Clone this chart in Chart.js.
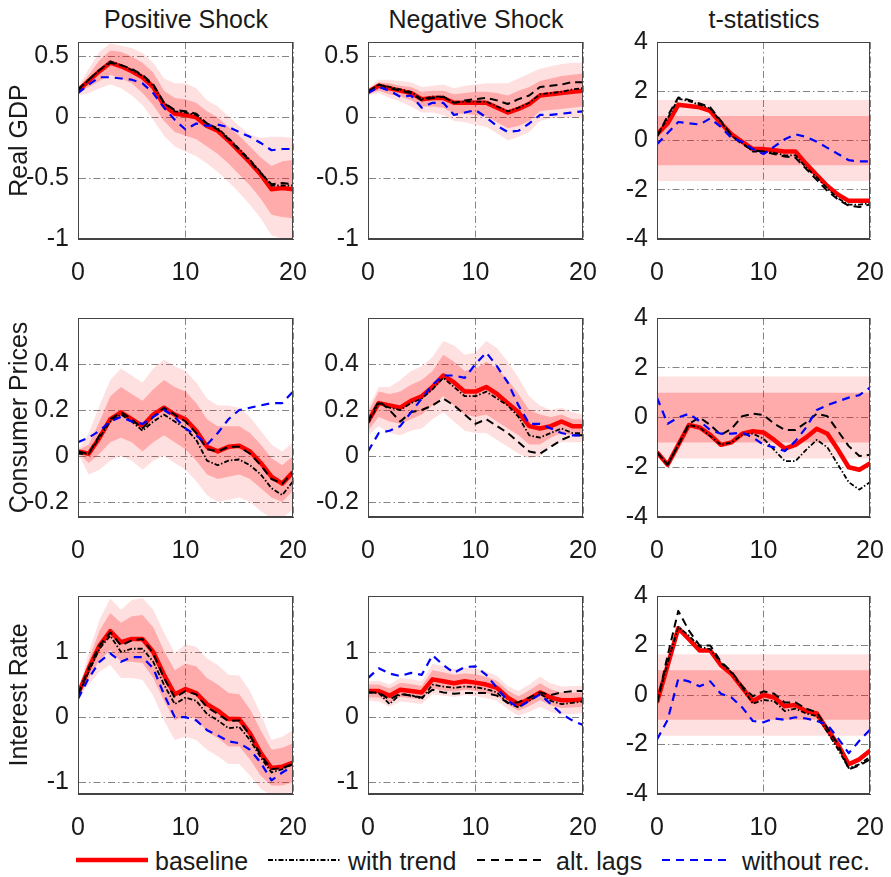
<!DOCTYPE html>
<html>
<head>
<meta charset="utf-8">
<script src="https://cdn.jsdelivr.net/npm/chart.js@4.4.1/dist/chart.umd.min.js"></script>
<style>
    body { margin: 0; background: #fff; width: 891px; height: 877px; position: relative; overflow: hidden;
           font-family: "Liberation Sans", Arial, sans-serif; color: #1a1a1a; }
    canvas { position: absolute; }
    .ttl { position: absolute; top: 4px; font-size: 25px; line-height: 30px; transform: translateX(-50%); white-space: nowrap; }
    .leg { position: absolute; top: 846px; font-size: 25px; line-height: 30px; white-space: nowrap; }
    svg.legline { position: absolute; left: 0; top: 0; }
</style>
</head>
<body>
<div class="ttl" style="left:186px">Positive Shock</div>
<div class="ttl" style="left:476px">Negative Shock</div>
<div class="ttl" style="left:764px">t-statistics</div>

<svg class="legline" width="891" height="877">
    <line x1="76" y1="860" x2="148" y2="860" stroke="#ff0000" stroke-width="4.5"/>
    <line x1="268" y1="860" x2="340" y2="860" stroke="#000" stroke-width="1.8" stroke-dasharray="5 2 1.5 2"/>
    <line x1="477" y1="860" x2="542" y2="860" stroke="#000" stroke-width="2" stroke-dasharray="8 6"/>
    <line x1="662" y1="860" x2="727" y2="860" stroke="#0000ff" stroke-width="2.2" stroke-dasharray="8 6"/>
</svg>
<div class="leg" style="left:155px">baseline</div>
<div class="leg" style="left:348px">with trend</div>
<div class="leg" style="left:556px">alt. lags</div>
<div class="leg" style="left:742px">without rec.</div>

<script>
// horizon (quarters) and ticks
const horizon = [0,1,2,3,4,5,6,7,8,9,10,11,12,13,14,15,16,17,18,19,20];
const xTicks = [0, 10, 20];
const gdpTicks = [-1, -0.5, 0, 0.5];
const cpiTicks = [-0.2, 0, 0.2, 0.4];
const rateTicks = [-1, 0, 1];
const tTicks = [-4, -2, 0, 2, 4];
const gdpRange = [-1, 0.62];
const cpiRange = [-0.265, 0.6];
const rateRange = [-1.18, 1.86];
const tRange = [-4, 4];
const tInner = 1;      // 68% band for t-stats
const tOuter = 1.645;  // 90% band for t-stats

// Real GDP, positive shock
const gdpPosBase  = [0.22,0.30,0.38,0.45,0.42,0.38,0.33,0.25,0.10,0.03,0.02,0.00,-0.07,-0.11,-0.19,-0.28,-0.37,-0.47,-0.59,-0.58,-0.59];
const gdpPosTrend = [0.22,0.31,0.39,0.46,0.43,0.39,0.34,0.26,0.12,0.05,0.04,0.02,-0.05,-0.09,-0.17,-0.26,-0.35,-0.45,-0.56,-0.56,-0.56];
const gdpPosLags  = [0.23,0.31,0.39,0.45,0.43,0.40,0.35,0.27,0.12,0.06,0.05,0.03,-0.05,-0.10,-0.18,-0.27,-0.36,-0.46,-0.55,-0.54,-0.55];
const gdpPosNoRec = [0.20,0.27,0.33,0.33,0.32,0.31,0.28,0.20,0.08,-0.02,-0.10,-0.05,-0.07,-0.06,-0.08,-0.12,-0.16,-0.21,-0.27,-0.26,-0.26];
const gdpPosHi90  = [0.25,0.40,0.54,0.61,0.59,0.57,0.53,0.45,0.32,0.28,0.28,0.24,0.14,0.09,0.01,-0.07,-0.14,-0.17,-0.16,-0.16,-0.17];
const gdpPosHi68  = [0.24,0.35,0.47,0.55,0.54,0.50,0.45,0.37,0.22,0.16,0.15,0.12,0.05,0.00,-0.08,-0.15,-0.24,-0.33,-0.40,-0.36,-0.35];
const gdpPosLo68  = [0.20,0.25,0.30,0.35,0.32,0.28,0.20,0.10,-0.03,-0.12,-0.15,-0.18,-0.24,-0.30,-0.38,-0.47,-0.56,-0.67,-0.80,-0.82,-0.83];
const gdpPosLo90  = [0.18,0.20,0.24,0.27,0.24,0.18,0.10,-0.02,-0.15,-0.24,-0.28,-0.32,-0.38,-0.45,-0.53,-0.62,-0.72,-0.83,-0.97,-1.00,-1.00];

// Real GDP, negative shock
const gdpNegBase  = [0.21,0.26,0.24,0.22,0.20,0.15,0.16,0.16,0.12,0.12,0.12,0.12,0.08,0.04,0.07,0.11,0.18,0.19,0.20,0.21,0.22];
const gdpNegTrend = [0.21,0.27,0.25,0.23,0.21,0.15,0.17,0.17,0.12,0.13,0.13,0.13,0.09,0.05,0.08,0.12,0.19,0.20,0.21,0.23,0.24];
const gdpNegLags  = [0.21,0.27,0.24,0.22,0.20,0.14,0.16,0.17,0.12,0.14,0.15,0.16,0.14,0.11,0.15,0.18,0.25,0.26,0.27,0.29,0.29];
const gdpNegNoRec = [0.20,0.25,0.22,0.17,0.18,0.08,0.12,0.12,0.02,0.04,0.06,0.00,-0.07,-0.12,-0.11,-0.05,0.02,0.02,0.03,0.04,0.05];
const gdpNegHi90  = [0.24,0.31,0.31,0.30,0.29,0.25,0.26,0.27,0.24,0.26,0.27,0.28,0.28,0.28,0.32,0.36,0.40,0.42,0.44,0.45,0.45];
const gdpNegHi68  = [0.23,0.29,0.28,0.26,0.25,0.21,0.22,0.22,0.19,0.20,0.21,0.21,0.20,0.18,0.22,0.25,0.30,0.32,0.34,0.35,0.36];
const gdpNegLo68  = [0.19,0.22,0.19,0.17,0.14,0.09,0.09,0.08,0.03,0.03,0.02,0.01,-0.04,-0.09,-0.07,-0.03,0.05,0.06,0.07,0.08,0.09];
const gdpNegLo90  = [0.18,0.20,0.16,0.13,0.09,0.04,0.04,0.02,-0.03,-0.04,-0.06,-0.08,-0.13,-0.19,-0.16,-0.12,-0.03,-0.01,0.00,0.00,0.00];

// Real GDP, t-statistics
const gdpTBase  = [0.25,0.70,1.45,1.40,1.35,1.20,0.70,0.25,-0.05,-0.35,-0.35,-0.40,-0.45,-0.45,-0.95,-1.40,-1.85,-2.20,-2.45,-2.45,-2.45];
const gdpTTrend = [0.20,0.90,1.70,1.60,1.45,1.30,0.75,0.20,-0.10,-0.45,-0.45,-0.50,-0.60,-0.60,-1.10,-1.50,-1.95,-2.35,-2.60,-2.60,-2.55];
const gdpTLags  = [0.15,1.00,1.75,1.65,1.50,1.35,0.80,0.20,-0.15,-0.40,-0.45,-0.55,-0.65,-0.70,-1.15,-1.60,-2.05,-2.40,-2.65,-2.70,-2.60];
const gdpTNoRec = [-0.15,0.30,0.75,0.70,0.65,0.90,0.55,0.10,-0.05,-0.35,-0.55,-0.25,0.05,0.25,0.15,-0.05,-0.30,-0.55,-0.80,-0.85,-0.85];

// Consumer prices, positive shock
const cpiPosBase  = [0.02,0.01,0.08,0.16,0.19,0.16,0.13,0.18,0.21,0.18,0.16,0.11,0.04,0.02,0.04,0.045,0.02,-0.03,-0.09,-0.12,-0.07];
const cpiPosTrend = [0.01,0.01,0.08,0.15,0.18,0.15,0.11,0.15,0.18,0.15,0.12,0.07,-0.02,-0.04,-0.02,-0.015,-0.04,-0.08,-0.14,-0.17,-0.11];
const cpiPosLags  = [0.02,0.01,0.09,0.16,0.19,0.16,0.12,0.17,0.21,0.18,0.15,0.10,0.03,0.02,0.04,0.04,0.01,-0.04,-0.10,-0.12,-0.07];
const cpiPosNoRec = [0.06,0.08,0.11,0.15,0.17,0.15,0.14,0.17,0.20,0.17,0.12,0.09,0.05,0.10,0.16,0.20,0.21,0.22,0.23,0.23,0.28];
const cpiPosHi90  = [0.03,0.10,0.22,0.33,0.38,0.35,0.32,0.38,0.42,0.39,0.37,0.32,0.25,0.22,0.22,0.21,0.17,0.11,0.05,0.02,0.06];
const cpiPosHi68  = [0.025,0.05,0.15,0.26,0.30,0.27,0.24,0.29,0.33,0.30,0.28,0.23,0.16,0.13,0.13,0.13,0.10,0.05,-0.01,-0.04,0.00];
const cpiPosLo68  = [0.015,-0.03,0.01,0.06,0.08,0.06,0.02,0.06,0.09,0.06,0.03,-0.02,-0.08,-0.10,-0.09,-0.08,-0.10,-0.14,-0.18,-0.20,-0.15];
const cpiPosLo90  = [0.01,-0.08,-0.06,-0.02,0.00,-0.02,-0.06,-0.02,0.00,-0.03,-0.06,-0.11,-0.17,-0.20,-0.19,-0.18,-0.20,-0.24,-0.27,-0.27,-0.23];

// Consumer prices, negative shock
const cpiNegBase  = [0.15,0.23,0.22,0.21,0.24,0.26,0.30,0.35,0.32,0.28,0.28,0.30,0.27,0.23,0.19,0.13,0.12,0.13,0.15,0.13,0.13];
const cpiNegTrend = [0.14,0.23,0.21,0.20,0.23,0.25,0.29,0.34,0.30,0.26,0.26,0.28,0.25,0.22,0.17,0.09,0.08,0.10,0.12,0.10,0.10];
const cpiNegLags  = [0.15,0.24,0.20,0.15,0.19,0.20,0.22,0.25,0.22,0.18,0.14,0.16,0.13,0.10,0.06,0.02,0.01,0.04,0.07,0.09,0.09];
const cpiNegNoRec = [0.02,0.10,0.11,0.13,0.19,0.25,0.31,0.35,0.35,0.34,0.40,0.45,0.39,0.32,0.22,0.14,0.14,0.12,0.10,0.09,0.09];
const cpiNegHi90  = [0.21,0.30,0.30,0.33,0.37,0.39,0.43,0.50,0.48,0.44,0.45,0.50,0.47,0.41,0.34,0.26,0.22,0.20,0.21,0.19,0.18];
const cpiNegHi68  = [0.19,0.28,0.27,0.28,0.31,0.33,0.37,0.44,0.41,0.37,0.38,0.41,0.38,0.33,0.27,0.20,0.18,0.17,0.18,0.16,0.16];
const cpiNegLo68  = [0.11,0.17,0.15,0.14,0.16,0.18,0.22,0.26,0.22,0.18,0.17,0.18,0.15,0.12,0.09,0.05,0.05,0.08,0.10,0.09,0.09];
const cpiNegLo90  = [0.09,0.13,0.10,0.09,0.11,0.12,0.16,0.19,0.15,0.11,0.10,0.10,0.07,0.04,0.01,-0.01,0.00,0.04,0.06,0.06,0.06];

// Consumer prices, t-statistics
const cpiTBase  = [-1.40,-1.90,-1.10,-0.30,-0.40,-0.70,-1.10,-1.00,-0.65,-0.55,-0.60,-0.90,-1.25,-1.10,-0.80,-0.45,-0.65,-1.30,-2.00,-2.10,-1.85];
const cpiTTrend = [-1.40,-1.90,-1.10,-0.30,-0.40,-0.75,-1.10,-1.00,-0.70,-0.65,-0.85,-1.30,-1.75,-1.75,-1.30,-0.90,-1.20,-1.90,-2.60,-2.90,-2.60];
const cpiTLags  = [-1.40,-1.90,-1.10,-0.25,0.00,-0.30,-0.70,-0.45,0.05,0.15,0.10,-0.25,-0.50,-0.50,-0.20,0.15,0.05,-0.55,-1.15,-1.55,-1.50];
const cpiTNoRec = [0.80,-0.25,0.00,0.15,-0.15,-0.50,-0.65,-0.65,-0.60,-0.80,-1.10,-1.20,-1.35,-0.95,-0.40,0.30,0.50,0.65,0.80,0.90,1.20];

// Interest rate, positive shock
const ratePosBase  = [0.35,0.75,1.10,1.32,1.15,1.20,1.20,1.00,0.65,0.35,0.43,0.37,0.20,0.10,-0.03,-0.03,-0.25,-0.55,-0.78,-0.76,-0.70];
const ratePosTrend = [0.33,0.70,1.05,1.25,1.00,1.05,1.05,0.85,0.50,0.20,0.30,0.25,0.05,-0.05,-0.17,-0.15,-0.35,-0.62,-0.85,-0.80,-0.72];
const ratePosLags  = [0.35,0.75,1.10,1.30,1.10,1.18,1.20,0.98,0.60,0.30,0.40,0.35,0.15,0.05,-0.06,-0.05,-0.28,-0.58,-0.80,-0.78,-0.72];
const ratePosNoRec = [0.28,0.60,0.85,0.98,0.85,0.92,0.92,0.75,0.35,0.00,0.00,-0.05,-0.20,-0.28,-0.37,-0.40,-0.50,-0.70,-0.97,-0.85,-0.75];
const ratePosHi90  = [0.38,1.00,1.50,1.82,1.65,1.80,1.83,1.65,1.30,0.98,1.12,1.08,0.90,0.80,0.65,0.64,0.40,0.05,-0.35,-0.30,-0.20];
const ratePosHi68  = [0.37,0.88,1.33,1.60,1.45,1.55,1.57,1.38,1.02,0.72,0.82,0.78,0.60,0.50,0.37,0.35,0.12,-0.20,-0.50,-0.47,-0.40];
const ratePosLo68  = [0.32,0.60,0.87,1.03,0.85,0.85,0.83,0.60,0.25,-0.05,0.03,-0.03,-0.22,-0.32,-0.45,-0.45,-0.65,-0.90,-1.05,-1.05,-1.00];
const ratePosLo90  = [0.30,0.50,0.70,0.80,0.60,0.60,0.57,0.33,-0.05,-0.35,-0.30,-0.35,-0.50,-0.60,-0.72,-0.72,-0.90,-1.10,-1.20,-1.20,-1.20];

// Interest rate, negative shock
const rateNegBase  = [0.40,0.40,0.33,0.42,0.40,0.38,0.58,0.55,0.52,0.55,0.53,0.50,0.45,0.30,0.20,0.28,0.38,0.30,0.26,0.26,0.27];
const rateNegTrend = [0.38,0.37,0.20,0.35,0.34,0.28,0.50,0.47,0.45,0.47,0.46,0.43,0.38,0.22,0.15,0.25,0.36,0.25,0.20,0.22,0.24];
const rateNegLags  = [0.38,0.38,0.27,0.36,0.33,0.30,0.42,0.38,0.36,0.37,0.37,0.37,0.33,0.22,0.23,0.30,0.38,0.34,0.38,0.40,0.40];
const rateNegNoRec = [0.60,0.75,0.67,0.63,0.68,0.65,0.95,0.80,0.68,0.77,0.78,0.65,0.45,0.25,0.15,0.25,0.35,0.20,0.05,-0.05,-0.12];
const rateNegHi90  = [0.55,0.56,0.50,0.60,0.58,0.55,0.82,0.78,0.74,0.76,0.75,0.70,0.63,0.48,0.40,0.50,0.62,0.52,0.47,0.48,0.48];
const rateNegHi68  = [0.50,0.50,0.44,0.53,0.51,0.48,0.72,0.69,0.65,0.67,0.66,0.62,0.56,0.41,0.32,0.41,0.52,0.43,0.38,0.38,0.38];
const rateNegLo68  = [0.30,0.30,0.22,0.31,0.29,0.27,0.44,0.41,0.39,0.42,0.40,0.37,0.33,0.19,0.10,0.17,0.26,0.18,0.14,0.15,0.16];
const rateNegLo90  = [0.25,0.24,0.16,0.24,0.22,0.20,0.35,0.33,0.31,0.34,0.32,0.29,0.25,0.12,0.02,0.08,0.16,0.08,0.04,0.05,0.06];

// Interest rate, t-statistics
const rateTBase  = [-0.30,1.20,2.70,2.25,1.80,1.80,1.20,0.85,0.30,-0.25,0.00,-0.10,-0.45,-0.40,-0.65,-0.75,-1.40,-2.00,-2.80,-2.60,-2.25];
const rateTTrend = [-0.30,1.30,2.75,2.40,1.95,1.85,1.30,0.90,0.30,-0.35,-0.20,-0.25,-0.65,-0.55,-0.75,-0.85,-1.50,-2.20,-2.95,-2.80,-2.50];
const rateTLags  = [-0.35,1.60,3.40,2.60,2.00,2.00,1.35,0.95,0.35,-0.05,0.15,0.05,-0.30,-0.30,-0.55,-0.70,-1.35,-2.00,-3.00,-2.85,-2.60];
const rateTNoRec = [-1.80,-1.00,0.65,0.55,0.35,0.55,0.05,-0.10,-0.50,-1.05,-1.10,-0.95,-1.00,-0.90,-0.95,-1.05,-1.20,-1.75,-2.35,-1.85,-1.40];

// page layout of the 3x3 plot boxes
const colLeft = [78, 368, 657], colRight = [293, 583, 870];
const rowTop = [42, 318, 596], rowBottom = [239, 517, 794];
const rowTitles = ['Real GDP', 'Consumer Prices', 'Interest Rate'];
const FONT = '"Liberation Sans", Arial, sans-serif';
const lightPink = 'rgba(255,0,0,0.12)';
const darkPink = 'rgba(255,0,0,0.24)';
// canvas margins round the plot box (y axis width, room for labels)
const PAD_L = 70, PAD_T = 32, PAD_R = 40, PAD_B = 45;

const panels = [
    { r: 0, c: 0, base: gdpPosBase, trend: gdpPosTrend, lags: gdpPosLags, norec: gdpPosNoRec, hi90: gdpPosHi90, hi68: gdpPosHi68, lo68: gdpPosLo68, lo90: gdpPosLo90, ticks: gdpTicks, range: gdpRange },
    { r: 0, c: 1, base: gdpNegBase, trend: gdpNegTrend, lags: gdpNegLags, norec: gdpNegNoRec, hi90: gdpNegHi90, hi68: gdpNegHi68, lo68: gdpNegLo68, lo90: gdpNegLo90, ticks: gdpTicks, range: gdpRange },
    { r: 0, c: 2, base: gdpTBase, trend: gdpTTrend, lags: gdpTLags, norec: gdpTNoRec, ticks: tTicks, range: tRange },
    { r: 1, c: 0, base: cpiPosBase, trend: cpiPosTrend, lags: cpiPosLags, norec: cpiPosNoRec, hi90: cpiPosHi90, hi68: cpiPosHi68, lo68: cpiPosLo68, lo90: cpiPosLo90, ticks: cpiTicks, range: cpiRange },
    { r: 1, c: 1, base: cpiNegBase, trend: cpiNegTrend, lags: cpiNegLags, norec: cpiNegNoRec, hi90: cpiNegHi90, hi68: cpiNegHi68, lo68: cpiNegLo68, lo90: cpiNegLo90, ticks: cpiTicks, range: cpiRange },
    { r: 1, c: 2, base: cpiTBase, trend: cpiTTrend, lags: cpiTLags, norec: cpiTNoRec, ticks: tTicks, range: tRange },
    { r: 2, c: 0, base: ratePosBase, trend: ratePosTrend, lags: ratePosLags, norec: ratePosNoRec, hi90: ratePosHi90, hi68: ratePosHi68, lo68: ratePosLo68, lo90: ratePosLo90, ticks: rateTicks, range: rateRange },
    { r: 2, c: 1, base: rateNegBase, trend: rateNegTrend, lags: rateNegLags, norec: rateNegNoRec, hi90: rateNegHi90, hi68: rateNegHi68, lo68: rateNegLo68, lo90: rateNegLo90, ticks: rateTicks, range: rateRange },
    { r: 2, c: 2, base: rateTBase, trend: rateTTrend, lags: rateTLags, norec: rateTNoRec, ticks: tTicks, range: tRange },
];

// box round the plot area, like matlab's "box on"
const boxPlugin = {
    id: 'box',
    afterDatasetsDraw(chart) {
        const { ctx, chartArea: a } = chart;
        ctx.save();
        ctx.strokeStyle = '#444';
        ctx.lineWidth = 1;
        ctx.setLineDash([]);
        ctx.strokeRect(a.left + 0.5, a.top + 0.5, a.right - a.left - 1, a.bottom - a.top - 1);
        ctx.restore();
    }
};

const pts = arr => arr.map((v, i) => ({ x: horizon[i], y: v }));
const flat = v => [{ x: horizon[0], y: v }, { x: horizon[horizon.length - 1], y: v }];

function makePanel(p) {
    const w = colRight[p.c] - colLeft[p.c], h = rowBottom[p.r] - rowTop[p.r];
    const cv = document.createElement('canvas');
    cv.width = PAD_L + w + PAD_R;
    cv.height = PAD_T + h + PAD_B;
    cv.style.left = (colLeft[p.c] - PAD_L) + 'px';
    cv.style.top = (rowTop[p.r] - PAD_T) + 'px';
    document.body.appendChild(cv);

    const isT = p.c === 2;
    const hi68 = isT ? flat(tInner) : pts(p.hi68);
    const lo68 = isT ? flat(-tInner) : pts(p.lo68);
    const hi90 = isT ? flat(tOuter) : pts(p.hi90);
    const lo90 = isT ? flat(-tOuter) : pts(p.lo90);
    const none = 'rgba(0,0,0,0)';

    const datasets = [
        { label: 'without rec.', data: pts(p.norec), borderColor: '#0000ff', borderWidth: 2.2, borderDash: [8, 6] },
        { label: 'alt. lags', data: pts(p.lags), borderColor: '#000', borderWidth: 2, borderDash: [8, 5] },
        { label: 'with trend', data: pts(p.trend), borderColor: '#000', borderWidth: 1.8, borderDash: [5, 2, 1.5, 2] },
        { label: 'baseline', data: pts(p.base), borderColor: '#ff0000', borderWidth: 4.5 },
        { label: '68 upper', data: hi68, borderColor: none, backgroundColor: darkPink, fill: '+1' },
        { label: '68 lower', data: lo68, borderColor: none },
        { label: '90 upper', data: hi90, borderColor: none, backgroundColor: lightPink, fill: '+1' },
        { label: '90 lower', data: lo90, borderColor: none },
    ];

    new Chart(cv, {
        type: 'line',
        data: { datasets: datasets },
        plugins: [boxPlugin],
        options: {
            responsive: false,
            animation: false,
            layout: { padding: { left: 0, top: PAD_T, right: PAD_R, bottom: 0 } },
            elements: {
                point: { radius: 0 },
                line: { tension: 0, borderJoinStyle: 'round', borderCapStyle: 'butt', fill: false }
            },
            plugins: { legend: { display: false }, tooltip: { enabled: false } },
            scales: {
                x: {
                    type: 'linear', min: 0, max: 20,
                    afterBuildTicks: s => { s.ticks = xTicks.map(v => ({ value: v })); },
                    afterFit: s => { s.height = PAD_B; },
                    grid: { color: '#777', lineWidth: 0.9, drawTicks: false },
                    border: { display: true, color: '#444', width: 1, dash: [7, 3, 1.5, 3] },
                    ticks: { padding: 19, color: '#1a1a1a', maxRotation: 0, font: { size: 25, family: FONT }, callback: v => String(v) }
                },
                y: {
                    type: 'linear', min: p.range[0], max: p.range[1],
                    afterBuildTicks: s => { s.ticks = p.ticks.map(v => ({ value: v })); },
                    afterFit: s => { s.width = PAD_L; },
                    grid: { color: '#777', lineWidth: 0.9, drawTicks: false },
                    border: { display: true, color: '#444', width: 1, dash: [7, 3, 1.5, 3] },
                    ticks: { padding: 9, color: '#1a1a1a', font: { size: 25, family: FONT }, callback: v => String(v) },
                    title: {
                        display: p.c === 0, text: rowTitles[p.r], color: '#1a1a1a',
                        font: { size: 25, family: FONT, lineHeight: 1 }, padding: 0
                    }
                }
            }
        }
    });
}

panels.forEach(makePanel);
</script>
</body>
</html>
